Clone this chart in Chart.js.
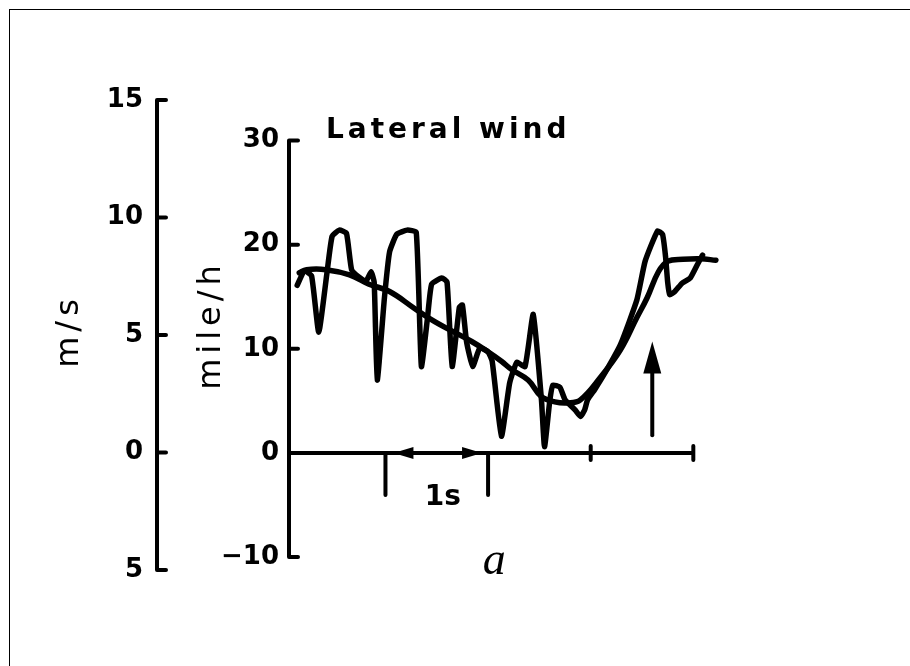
<!DOCTYPE html>
<html>
<head>
<meta charset="utf-8">
<title>Lateral wind</title>
<script src="https://cdn.jsdelivr.net/npm/chart.js@4.4.0/dist/chart.umd.min.js"></script>
<style>
  body { margin: 0; background: #fff; }
  #wrap { position: relative; width: 910px; height: 666px; overflow: hidden; }
  #frame { position: absolute; left: 9px; top: 9px; right: -5px; bottom: -5px; border-top: 1.5px solid #000; border-left: 1.5px solid #000; }
  canvas { position: absolute; left: 0; top: 0; }
</style>
</head>
<body>
<div id="wrap">
  <div id="frame"></div>
  <canvas id="lateralWind" width="910" height="666"></canvas>
</div>
<script>
// measured lateral wind: time (s) and speed (mile/h)
var measuredTime = [0.14, 0.21, 0.28, 0.35, 0.43, 0.48, 0.55, 0.62, 0.67, 0.74, 0.81, 0.86, 0.89, 0.92,
    0.99, 1.04, 1.11, 1.21, 1.30, 1.35, 1.41, 1.45, 1.55, 1.60, 1.65, 1.72, 1.75, 1.79, 1.85, 1.92,
    2.00, 2.04, 2.13, 2.21, 2.28, 2.36, 2.44, 2.52, 2.55, 2.60, 2.63, 2.70, 2.75, 2.85, 2.90, 2.94,
    2.97, 3.04, 3.14, 3.29, 3.45, 3.53, 3.65, 3.70, 3.73, 3.75, 3.77, 3.82, 3.89, 3.97, 4.04, 4.09];
var measuredWind = [16.1, 17.5, 17.0, 11.6, 17.3, 20.8, 21.4, 21.1, 17.6, 16.9, 16.5, 17.4, 16.4, 7.0,
    14.9, 19.3, 21.0, 21.4, 21.2, 8.3, 13.0, 16.2, 16.8, 16.4, 8.3, 14.0, 14.2, 10.7, 8.3, 10.1,
    9.7, 8.8, 1.6, 6.7, 8.7, 8.3, 13.3, 5.1, 0.6, 4.9, 6.5, 6.3, 5.1, 4.1, 3.5, 4.1,
    5.1, 6.1, 7.7, 10.4, 14.7, 18.4, 21.3, 21.0, 18.8, 16.4, 15.2, 15.5, 16.3, 16.8, 18.1, 19.0];

// smoothed curve
var meanTime = [0.16, 0.23, 0.42, 0.65, 0.84, 1.04, 1.28, 1.48, 1.67, 1.84, 1.97, 2.13, 2.23, 2.39,
    2.52, 2.65, 2.78, 2.90, 3.09, 3.29, 3.45, 3.55, 3.66, 3.75, 3.90, 4.07, 4.22];
var meanWind = [17.3, 17.6, 17.6, 17.1, 16.2, 15.5, 13.9, 12.6, 11.6, 10.7, 9.9, 8.8, 8.0, 7.0,
    5.4, 4.9, 4.8, 5.1, 7.2, 9.9, 13.0, 14.9, 17.4, 18.4, 18.6, 18.65, 18.5];

var msTicks = [15, 10, 5, 0, -5];
var msLabels = ['15', '10', '5', '0', '5'];
var mphTicks = [30, 20, 10, 0, -10];
var mphLabels = ['30', '20', '10', '0', '−10'];
var timeTicks = [1, 2, 3, 4];

// arrow marking the gust (time, from, to in mile/h)
var arrowTime = 3.6;
var arrowFrom = 1.7;
var arrowTo = 10.7;

var fonte = 'DejaVu Sans';

function pontos(tempos, valores) {
    return tempos.map(function (t, i) { return { x: t, y: valores[i] }; });
}

// axis with square brackets at both ends and ticks pointing inwards
function eixoColchete(ctx, scale, ticks, len) {
    var ax = scale.right;
    var topo = scale.getPixelForValue(ticks[0]);
    var base = scale.getPixelForValue(ticks[ticks.length - 1]);
    ctx.beginPath();
    ctx.moveTo(ax + len, topo);
    ctx.lineTo(ax, topo);
    ctx.lineTo(ax, base);
    ctx.lineTo(ax + len, base);
    ticks.slice(1, -1).forEach(function (v) {
        var y = scale.getPixelForValue(v);
        ctx.moveTo(ax, y);
        ctx.lineTo(ax + len, y);
    });
    ctx.stroke();
}

// vertical axis title, letter spaced, reading upwards
function tituloEixo(ctx, texto, x, y) {
    ctx.save();
    ctx.translate(x, y);
    ctx.rotate(-Math.PI / 2);
    ctx.font = '32px ' + fonte;
    ctx.letterSpacing = '5px';
    ctx.textAlign = 'center';
    ctx.textBaseline = 'middle';
    ctx.fillText(texto, 0, 0);
    ctx.restore();
}

function seta(ctx, xPonta, y, dir, comp, meia) {
    ctx.beginPath();
    ctx.moveTo(xPonta, y);
    ctx.lineTo(xPonta - dir * comp, y - meia);
    ctx.lineTo(xPonta - dir * comp, y + meia);
    ctx.closePath();
    ctx.fill();
}

var extras = {
    id: 'extras',
    afterDatasetsDraw: function (chart) {
        var ctx = chart.ctx;
        var x = chart.scales.x;
        var ms = chart.scales.ms;
        var mph = chart.scales.y;
        var meio = (chart.chartArea.top + chart.chartArea.bottom) / 2;
        ctx.save();
        ctx.strokeStyle = '#000';
        ctx.fillStyle = '#000';
        ctx.lineWidth = 4;
        ctx.lineCap = 'round';
        ctx.lineJoin = 'round';

        eixoColchete(ctx, ms, msTicks, 9);
        eixoColchete(ctx, mph, mphTicks, 9);
        tituloEixo(ctx, 'm/s', ms.left + 20, meio - 4);
        tituloEixo(ctx, 'mile/h', mph.left + 55, meio - 10);

        // time axis on the zero line
        var y0 = mph.getPixelForValue(0);
        var fim = x.getPixelForValue(timeTicks[timeTicks.length - 1]);
        ctx.beginPath();
        ctx.moveTo(mph.right, y0);
        ctx.lineTo(fim, y0);
        timeTicks.forEach(function (t, i) {
            var px = x.getPixelForValue(t);
            if (i < 2) {
                ctx.moveTo(px, y0);
                ctx.lineTo(px, y0 + 42);
            } else {
                ctx.moveTo(px, y0 - 7);
                ctx.lineTo(px, y0 + 7);
            }
        });
        ctx.stroke();

        // 1 s interval
        var p1 = x.getPixelForValue(timeTicks[0]);
        var p2 = x.getPixelForValue(timeTicks[1]);
        seta(ctx, p1 + 8, y0, -1, 20, 6);
        seta(ctx, p2 - 6, y0, 1, 20, 6);
        ctx.textAlign = 'center';
        ctx.textBaseline = 'middle';
        ctx.font = 'bold 28px ' + fonte;
        ctx.fillText('1s', (p1 + p2) / 2 + 6, y0 + 45);

        // gust arrow
        var ax = x.getPixelForValue(arrowTime);
        var aTopo = mph.getPixelForValue(arrowTo);
        ctx.beginPath();
        ctx.moveTo(ax, mph.getPixelForValue(arrowFrom));
        ctx.lineTo(ax, aTopo + 20);
        ctx.stroke();
        ctx.beginPath();
        ctx.moveTo(ax, aTopo);
        ctx.lineTo(ax - 9, aTopo + 32);
        ctx.lineTo(ax + 9, aTopo + 32);
        ctx.closePath();
        ctx.fill();

        // title inside the plot
        ctx.textAlign = 'left';
        ctx.font = 'bold 28px ' + fonte;
        ctx.letterSpacing = '4px';
        ctx.fillText('Lateral wind', x.getPixelForValue(0.42), mph.getPixelForValue(30) - 10);
        ctx.letterSpacing = '0px';

        // panel letter
        ctx.textAlign = 'center';
        ctx.font = 'italic 46px "Liberation Serif"';
        ctx.fillText('a', x.getPixelForValue(2.06), chart.chartArea.bottom - 8);
        ctx.restore();
    }
};

var fonteEixo = { family: fonte, size: 26, weight: 'bold' };

var grafico = new Chart(document.getElementById('lateralWind').getContext('2d'), {
    type: 'line',
    data: {
        datasets: [{
            label: 'Lateral wind',
            data: pontos(measuredTime, measuredWind),
            yAxisID: 'y',
            tension: 0.15
        }, {
            label: 'Mean',
            data: pontos(meanTime, meanWind),
            yAxisID: 'y',
            tension: 0.4
        }]
    },
    options: {
        responsive: false,
        animation: false,
        devicePixelRatio: 1,
        layout: {
            padding: { left: 50, top: 100, right: 190, bottom: 96 }
        },
        elements: {
            point: { radius: 0 },
            line: {
                borderColor: '#000',
                borderWidth: 5.5,
                borderCapStyle: 'round',
                borderJoinStyle: 'round',
                fill: false
            }
        },
        plugins: {
            legend: { display: false },
            tooltip: { enabled: false }
        },
        scales: {
            x: {
                type: 'linear',
                min: 0.06,
                max: 4.26,
                display: false
            },
            y: {
                position: 'left',
                weight: 0,
                min: -11.25,
                max: 33.9,
                afterBuildTicks: function (s) {
                    s.ticks = mphTicks.map(function (v) { return { value: v }; });
                },
                afterFit: function (s) { s.width = 132; },
                border: { display: false },
                grid: { display: false, drawTicks: false },
                ticks: {
                    padding: 10,
                    color: '#000',
                    font: fonteEixo,
                    callback: function (v, i) { return mphLabels[i]; }
                }
            },
            ms: {
                type: 'linear',
                position: 'left',
                weight: 1,
                min: -5,
                max: 15,
                afterBuildTicks: function (s) {
                    s.ticks = msTicks.map(function (v) { return { value: v }; });
                },
                afterFit: function (s) { s.width = 107; },
                border: { display: false },
                grid: { display: false, drawTicks: false },
                ticks: {
                    padding: 14,
                    color: '#000',
                    font: fonteEixo,
                    callback: function (v, i) { return msLabels[i]; }
                }
            }
        }
    },
    plugins: [extras]
});
</script>
</body>
</html>
